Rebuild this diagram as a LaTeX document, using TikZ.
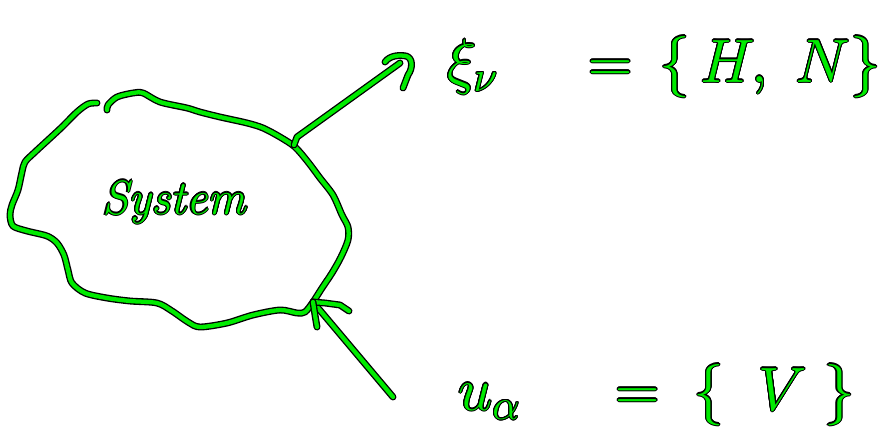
\RequirePackage{fix-cm}
\documentclass[tikz,border=0pt]{standalone}
\usepackage{contour}
\contourlength{0.8pt}
\definecolor{pengreen}{RGB}{0,235,0}
\tikzset{
  pen/.style={draw=black, line width=1pt, double=pengreen, double distance=3.2pt,
    line cap=round, line join=round},
  ink/.style={text=pengreen, inner sep=0pt, font=\fontsize{46}{54}\selectfont}
}
\begin{document}
\begin{tikzpicture}[x=0.75pt, y=-0.75pt]
\useasboundingbox (0,0) rectangle (882,437);

% System
\draw[pen] plot[smooth, tension=0.5] coordinates {
  (97,103) (88,104) (77,112) (62,127) (48,140) (35,152) (25,162) (22,172)
  (18,190) (12,205) (10,215) (13,226) (27,231) (47,236) (57,243) (64,255)
  (68,270) (72,283) (85,293) (107,298) (130,301) (157,303) (172,311)
  (188,322) (200,327) (227,323) (253,315) (280,310) (297,313) (305,312)
  (313,302) (322,288) (332,273) (341,257) (348,240) (348,227) (342,215)
  (333,195) (320,178) (308,162) (295,147) (280,137) (263,128) (247,123)
  (220,117) (200,112) (187,108) (160,102) (143,93) (133,93) (117,97)
  (108,105) (107,110)};
\coordinate (sysout) at (294,145);
\coordinate (sysin) at (313,302);
\node[ink, font=\fontsize{36}{42}\selectfont\itshape, anchor=base] (sys) at (174,214)
  {\contour{black}{System}};

% Zustandsgroessen
\node[ink, anchor=base west] (statevars) at (447,82)
  {\contour{black}{$\xi_\nu\hspace{1.2em}=\,\{\,H,\;N\}$}};
\coordinate (outtip) at (400,63);
\draw[pen] (sysout) -- ++(3,-8) -- (outtip);
\draw[pen] (385,62) .. controls (390,55) and (400,55) .. (406,56)
  .. controls (413,58) and (413,68) .. (408,75) -- (403,88);

% Steuergroessen
\node[ink, anchor=base west] (ctrlvars) at (458,410)
  {\contour{black}{$u_\alpha\hspace{1.28em}=\;\{\;\;V\;\}$}};
\coordinate (intail) at (393,397);
\draw[pen] (intail) -- (sysin);
\draw[pen] (sysin) -- ++(12,1) -- ++(15,2) -- ++(9,6);
\draw[pen] (sysin) -- ++(2,13) -- ++(2,12);

\end{tikzpicture}
\end{document}
